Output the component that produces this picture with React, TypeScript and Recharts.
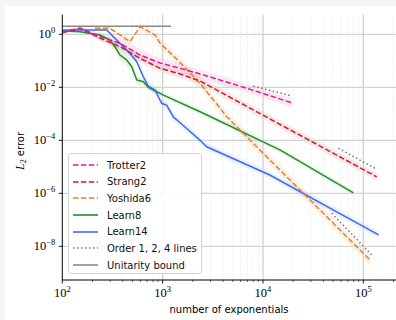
import React from "react";
import { ComposedChart, Line, Area, XAxis, YAxis, ReferenceLine, Legend } from "recharts";

// number of exponentials (x) and L2 error (y)
const trotterN = [100, 150, 238, 376, 596, 944, 1494, 2363, 5000, 10000, 19360];
const trotterErr = [1.2, 1.7, 0.81, 0.46, 0.165, 0.083, 0.052, 0.032, 0.0135, 0.0059, 0.0026];
const trotterBand = [0.05, 0.08, 0.15, 0.22, 0.22, 0.2, 0.18, 0.17, 0.17, 0.17, 0.17];

const strangN = [100, 150, 238, 376, 596, 944, 1494, 2363, 10000, 40000, 136000];
const strangErr = [1.15, 1.68, 0.72, 0.34, 0.124, 0.052, 0.032, 0.0173, 8.9e-4, 5.2e-5, 4.2e-6];
const strangBand = [0.04, 0.06, 0.1, 0.14, 0.15, 0.15, 0.15, 0.15, 0.15, 0.15, 0.15];

const yoshidaN = [212, 299, 473, 596, 841, 944, 1400, 2363, 4360, 11750, 29500, 117000];
const yoshidaErr = [1.68, 1.68, 0.53, 1.94, 0.94, 0.46, 0.11, 0.0141, 7.8e-4, 1.8e-5, 5.6e-7, 3.0e-9];
const yoshidaBand = [0.05, 0.06, 0.12, 0.15, 0.18, 0.2, 0.2, 0.2, 0.2, 0.2, 0.2, 0.22];

const learn8N = [100, 150, 238, 299, 335, 376, 439, 492, 552, 642, 720, 874, 1018, 2363, 14900, 79600];
const learn8Err = [1.33, 1.25, 0.94, 0.61, 0.34, 0.165, 0.107, 0.06, 0.019, 0.0163, 0.01, 0.0068, 0.0051, 0.0012, 4.3e-5, 1.05e-6];
const learn8Band = [0.02, 0.03, 0.05, 0.1, 0.18, 0.22, 0.22, 0.2, 0.15, 0.12, 0.1, 0.1, 0.1, 0.1, 0.1, 0.1];

const learn14N = [100, 277, 376, 473, 552, 642, 720, 840, 906, 980, 1100, 1276, 1737, 2363, 2750, 11700, 142000];
const learn14Err = [1.45, 1.45, 0.46, 0.19, 0.093, 0.025, 0.0112, 0.0079, 0.0044, 0.0025, 0.0021, 7.8e-4, 2.8e-4, 1.0e-4, 5.7e-5, 4.9e-6, 2.7e-8];
const learn14Band = [0.02, 0.03, 0.08, 0.1, 0.12, 0.14, 0.15, 0.15, 0.15, 0.15, 0.15, 0.15, 0.14, 0.13, 0.13, 0.13, 0.13];

// order 1, 2, 4 guide lines
const order1N = [8020, 19360];
const order1Err = [0.0112, 0.0047];
const order2N = [56500, 136000];
const order2Err = [5.0e-5, 8.1e-6];
const order4N = [48500, 121700];
const order4Err = [1.77e-7, 4.7e-9];

const unitarityN = [100, 1213];
const unitarityErr = [2, 2];

const xMajor = [100, 1000, 10000, 100000];
const xMinorMult = [2, 3, 4, 5, 6, 7, 8, 9];
const yMajor = [1, 1e-2, 1e-4, 1e-6, 1e-8];
const xLabels = ["2", "3", "4", "5"];
const yLabels = ["0", "\u22122", "\u22124", "\u22126", "\u22128"];

const X_DOMAIN = [100, 260400];
const Y_DOMAIN = [5.37e-10, 5.5];

const DASH = "5.5 2.4";
const DOT = "1.5 2.5";

const toPoints = (ns: number[], vs: number[], bw?: number[]) =>
  ns.map((n, i) => ({
    n,
    v: vs[i],
    band: bw ? [vs[i] / Math.pow(10, bw[i]), vs[i] * Math.pow(10, bw[i])] : undefined,
  }));

const series = [
  { name: "Trotter2", color: "#dd1c8e", dash: DASH, data: toPoints(trotterN, trotterErr, trotterBand) },
  { name: "Strang2", color: "#c81f2b", dash: DASH, data: toPoints(strangN, strangErr, strangBand) },
  { name: "Yoshida6", color: "#e0822f", dash: DASH, data: toPoints(yoshidaN, yoshidaErr, yoshidaBand) },
  { name: "Learn8", color: "#22902a", dash: undefined, data: toPoints(learn8N, learn8Err, learn8Band) },
  { name: "Learn14", color: "#3f6ced", dash: undefined, data: toPoints(learn14N, learn14Err, learn14Band) },
];

const guides = [
  toPoints(order1N, order1Err),
  toPoints(order2N, order2Err),
  toPoints(order4N, order4Err),
];

const legendRows = [
  ...series.map((s) => ({ name: s.name, color: s.color, dash: s.dash })),
  { name: "Order 1, 2, 4 lines", color: "#777", dash: DOT },
  { name: "Unitarity bound", color: "#888", dash: undefined },
];

const xTicks: number[] = [];
xMajor.forEach((m) => {
  xTicks.push(m);
  xMinorMult.forEach((k) => xTicks.push(m * k));
});

const SERIF = "'Liberation Serif', 'DejaVu Serif', serif";
const SANS = "'DejaVu Sans', sans-serif";

const XTick = (props: any) => {
  const { x, y, payload } = props;
  const idx = xMajor.indexOf(payload.value);
  const major = idx >= 0;
  return (
    <g>
      <line x1={x} x2={x} y1={y} y2={y + (major ? 3.5 : 2)} stroke="#000" strokeWidth={major ? 0.9 : 0.6} />
      {major && (
        <text x={x} y={y + 17} textAnchor="middle" fontFamily={SERIF} fontSize={12.5} fill="#000">
          <tspan>10</tspan>
          <tspan dy={-5} fontSize={8.5}>{xLabels[idx]}</tspan>
        </text>
      )}
    </g>
  );
};

const YTick = (props: any) => {
  const { x, y, payload } = props;
  const idx = yMajor.indexOf(payload.value);
  return (
    <g>
      <line x1={x - 3.5} x2={x} y1={y} y2={y} stroke="#000" strokeWidth={0.9} />
      <text x={x - 7} y={y + 4} textAnchor="end" fontFamily={SERIF} fontSize={12.5} fill="#000">
        <tspan>10</tspan>
        <tspan dy={-5} fontSize={8.5}>{yLabels[idx]}</tspan>
      </text>
    </g>
  );
};

const LegendBox = () => (
  <div
    style={{
      position: "relative",
      width: 134,
      height: 121,
      boxSizing: "border-box",
      border: "1px solid #d4d4d4",
      borderRadius: 3,
      background: "rgba(255,255,255,0.85)",
    }}
  >
    {legendRows.map((r, i) => (
      <div
        key={r.name}
        style={{ position: "absolute", left: 0, top: 3 + i * 16.67, height: 16, width: 134, display: "flex", alignItems: "center" }}
      >
        <svg width={36} height={16} style={{ display: "block" }}>
          <line x1={4} x2={29} y1={8} y2={8} stroke={r.color} strokeWidth={1.6} strokeDasharray={r.dash} />
        </svg>
        <span style={{ fontFamily: SANS, fontSize: 10, color: "#111", marginLeft: 2, whiteSpace: "nowrap" }}>{r.name}</span>
      </div>
    ))}
  </div>
);

export default function App() {
  return (
    <div style={{ position: "absolute", left: 0, top: 0, width: 396, height: 320, overflow: "hidden", background: "#f5f5f5" }}>
      <div style={{ position: "absolute", left: 5, top: 6, right: 0, bottom: 0, background: "#fff" }} />
      <div style={{ position: "absolute", left: 0, top: 0 }}>
        <ComposedChart width={410} height={320} margin={{ top: 14.7, right: 5, bottom: 0, left: 0 }}>
          <XAxis
            dataKey="n"
            type="number"
            scale="log"
            domain={X_DOMAIN}
            allowDataOverflow
            ticks={xTicks}
            interval={0}
            tick={<XTick />}
            tickLine={false}
            tickSize={0}
            tickMargin={0}
            height={40}
            axisLine={{ stroke: "#000", strokeWidth: 1 }}
            label={{
              content: () => (
                <text x={229} y={313} textAnchor="middle" fontFamily={SANS} fontSize={10} fill="#000">
                  number of exponentials
                </text>
              ),
            }}
          />
          <XAxis
            xAxisId="top"
            orientation="top"
            dataKey="n"
            type="number"
            scale="log"
            domain={X_DOMAIN}
            allowDataOverflow
            tick={false}
            tickLine={false}
            height={0}
            axisLine={{ stroke: "#000", strokeWidth: 1 }}
          />
          <YAxis
            type="number"
            scale="log"
            domain={Y_DOMAIN}
            allowDataOverflow
            ticks={yMajor}
            interval={0}
            tick={<YTick />}
            tickLine={false}
            tickSize={0}
            tickMargin={0}
            width={62.3}
            axisLine={{ stroke: "#000", strokeWidth: 1 }}
            label={{
              content: () => (
                <text transform="translate(23.5,151) rotate(-90)" textAnchor="middle" fontSize={10} fill="#000">
                  <tspan fontFamily={SERIF} fontStyle="italic" fontSize={12}>L</tspan>
                  <tspan fontFamily={SERIF} fontSize={8} dy={2}>2</tspan>
                  <tspan fontFamily={SANS} dy={-2}> error</tspan>
                </text>
              ),
            }}
          />

          {xTicks
            .filter((t) => xMajor.indexOf(t) < 0)
            .map((t) => (
              <ReferenceLine key={`mx${t}`} x={t} stroke="#dcdcdc" strokeWidth={0.7} strokeDasharray="1 1.6" />
            ))}
          {xMajor.slice(1).map((t) => (
            <ReferenceLine key={`Mx${t}`} x={t} stroke="#d0d0d0" strokeWidth={1.3} />
          ))}
          {yMajor.map((t) => (
            <ReferenceLine key={`My${t}`} y={t} stroke="#d4d4d4" strokeWidth={1.2} />
          ))}

          {series.map((s) => (
            <Area
              key={`band-${s.name}`}
              data={s.data}
              dataKey="band"
              type="linear"
              stroke="none"
              fill={s.color}
              fillOpacity={0.1}
              isAnimationActive={false}
              legendType="none"
            />
          ))}

          <Line
            data={toPoints(unitarityN, unitarityErr)}
            dataKey="v"
            stroke="#888"
            strokeWidth={1.5}
            dot={false}
            isAnimationActive={false}
            legendType="none"
          />
          {guides.map((g, i) => (
            <Line
              key={`g${i}`}
              data={g}
              dataKey="v"
              stroke="#777"
              strokeWidth={1.5}
              strokeDasharray={DOT}
              dot={false}
              isAnimationActive={false}
              legendType="none"
            />
          ))}
          {[3, 4, 2, 1, 0].map((i) => {
            const s = series[i];
            return (
              <Line
                key={s.name}
                name={s.name}
                data={s.data}
                dataKey="v"
                stroke={s.color}
                strokeWidth={1.5}
                strokeDasharray={s.dash}
                dot={false}
                isAnimationActive={false}
              />
            );
          })}

          <Legend
            layout="vertical"
            align="center"
            verticalAlign="middle"
            content={<LegendBox />}
            wrapperStyle={{ left: 68, top: 153, width: 134, height: 121 }}
          />
        </ComposedChart>
      </div>
    </div>
  );
}
